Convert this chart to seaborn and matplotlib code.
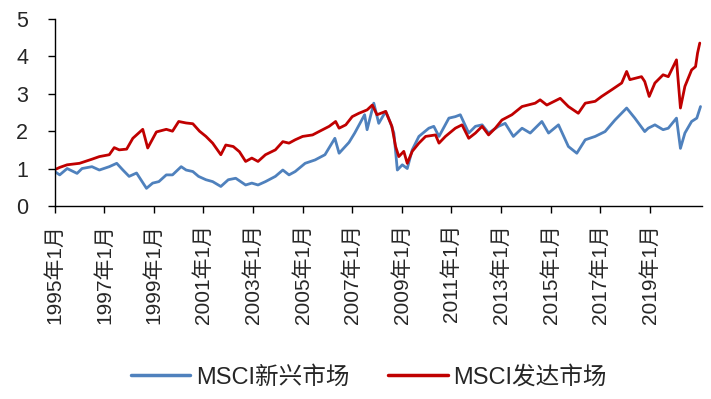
import matplotlib
matplotlib.use("Agg")
import matplotlib.pyplot as plt
import seaborn as sns
import pandas as pd

# ---- data (decimal years, index level) ----
t_em = [1995.0, 1995.2, 1995.5, 1995.9, 1996.1, 1996.5, 1996.8, 1997.2, 1997.5, 1997.75,
        1998.0, 1998.3, 1998.7, 1998.95, 1999.2, 1999.5, 1999.75, 2000.1, 2000.3, 2000.57,
        2000.8, 2001.1, 2001.37, 2001.7, 2002.0, 2002.3, 2002.7, 2002.95, 2003.2, 2003.5,
        2003.9, 2004.2, 2004.45, 2004.7, 2005.1, 2005.5, 2005.9, 2006.3, 2006.47, 2006.87,
        2007.1, 2007.5, 2007.6, 2007.87, 2008.07, 2008.35, 2008.55, 2008.68, 2008.82, 2009.02,
        2009.22, 2009.42, 2009.69, 2010.09, 2010.29, 2010.5, 2010.9, 2011.16, 2011.36, 2011.7,
        2011.97, 2012.24, 2012.5, 2012.9, 2013.17, 2013.5, 2013.85, 2014.18, 2014.65, 2014.92,
        2015.32, 2015.72, 2016.06, 2016.4, 2016.8, 2017.2, 2017.6, 2018.07, 2018.4, 2018.8,
        2018.94, 2019.21, 2019.54, 2019.75, 2020.08, 2020.24, 2020.42, 2020.69, 2020.9, 2021.05]
v_em = [0.92, 0.83, 1.00, 0.87, 1.00, 1.05, 0.96, 1.05, 1.14, 0.96,
        0.79, 0.88, 0.47, 0.61, 0.65, 0.83, 0.83, 1.05, 0.96, 0.92,
        0.79, 0.70, 0.65, 0.52, 0.70, 0.74, 0.56, 0.61, 0.56, 0.65,
        0.79, 0.96, 0.83, 0.92, 1.14, 1.23, 1.37, 1.81, 1.41, 1.70,
        1.95, 2.44, 2.04, 2.75, 2.21, 2.53, 2.21, 1.95, 0.96, 1.10,
        1.00, 1.50, 1.86, 2.08, 2.13, 1.86, 2.35, 2.39, 2.44, 1.95,
        2.13, 2.17, 1.95, 2.13, 2.21, 1.86, 2.08, 1.95, 2.26, 1.95,
        2.17, 1.59, 1.41, 1.77, 1.86, 1.99, 2.30, 2.62, 2.35, 1.99,
        2.08, 2.17, 2.04, 2.08, 2.35, 1.54, 1.95, 2.26, 2.35, 2.66]

t_dm = [1995.0, 1995.2, 1995.5, 1996.0, 1996.5, 1996.8, 1997.2, 1997.4, 1997.6, 1997.9,
        1998.15, 1998.55, 1998.75, 1999.1, 1999.5, 1999.75, 2000.0, 2000.3, 2000.57, 2000.84,
        2001.1, 2001.37, 2001.7, 2001.9, 2002.2, 2002.45, 2002.7, 2002.95, 2003.2, 2003.5,
        2003.9, 2004.2, 2004.45, 2004.7, 2005.0, 2005.4, 2005.66, 2006.07, 2006.33, 2006.47,
        2006.74, 2007.0, 2007.27, 2007.6, 2007.81, 2008.0, 2008.35, 2008.6, 2008.75, 2008.88,
        2009.08, 2009.22, 2009.42, 2009.69, 2009.96, 2010.36, 2010.5, 2010.76, 2011.16, 2011.43,
        2011.7, 2011.97, 2012.24, 2012.5, 2012.77, 2013.04, 2013.44, 2013.85, 2014.38, 2014.58,
        2014.85, 2015.39, 2015.72, 2016.12, 2016.4, 2016.8, 2017.06, 2017.47, 2017.87, 2018.07,
        2018.2, 2018.67, 2018.8, 2018.98, 2019.21, 2019.54, 2019.75, 2020.08, 2020.24, 2020.42,
        2020.69, 2020.85, 2020.93, 2021.02]
v_dm = [0.97, 1.03, 1.10, 1.14, 1.25, 1.32, 1.37, 1.56, 1.50, 1.52,
        1.81, 2.05, 1.55, 1.98, 2.05, 2.00, 2.26, 2.22, 2.20, 2.00,
        1.86, 1.68, 1.37, 1.63, 1.59, 1.45, 1.19, 1.28, 1.19, 1.37,
        1.50, 1.72, 1.68, 1.77, 1.86, 1.90, 1.99, 2.13, 2.26, 2.08,
        2.17, 2.39, 2.48, 2.57, 2.70, 2.44, 2.53, 2.13, 1.59, 1.32,
        1.46, 1.14, 1.46, 1.68, 1.86, 1.90, 1.68, 1.86, 2.08, 2.17,
        1.81, 1.95, 2.13, 1.90, 2.08, 2.30, 2.44, 2.66, 2.75, 2.84,
        2.70, 2.88, 2.66, 2.48, 2.75, 2.80, 2.93, 3.11, 3.29, 3.60,
        3.38, 3.46, 3.33, 2.93, 3.29, 3.51, 3.46, 3.91, 2.62, 3.20,
        3.64, 3.73, 4.09, 4.36]

series_names = ["MSCI新兴市场", "MSCI发达市场"]
colors = ["#4F81BD", "#C00000"]
tick_years = list(range(1995, 2021, 2))
tick_labels = [f"{y}年1月" for y in tick_years]
y_ticks = [0, 1, 2, 3, 4, 5]

df = pd.concat([
    pd.DataFrame({"t": t_em, "v": v_em, "s": series_names[0]}),
    pd.DataFrame({"t": t_dm, "v": v_dm, "s": series_names[1]}),
], ignore_index=True)

sns.set_style("ticks")
plt.rcParams["font.family"] = ["Liberation Sans", "Noto Sans CJK SC", "DejaVu Sans"]

fig = plt.figure(figsize=(7.11, 3.99), dpi=100)
ax = fig.add_axes([0.077, 0.484, 0.910, 0.468])

sns.lineplot(data=df, x="t", y="v", hue="s", hue_order=series_names,
             palette=colors, linewidth=2.0, ax=ax, sort=True, estimator=None)

ax.set_xlim(1995.0, 2021.1)
ax.set_ylim(0, 5)
ax.set_xticks(tick_years)
ax.set_xticklabels(tick_labels, rotation=90, fontsize=15)
ax.set_yticks(y_ticks)
ax.set_yticklabels([str(v) for v in y_ticks], fontsize=15.5)
ax.tick_params(axis="both", direction="out", length=5, width=1, color="black")
ax.tick_params(axis="x", pad=8)
ax.tick_params(axis="y", pad=14)
ax.set_xlabel("")
ax.set_ylabel("")
for side in ["top", "right"]:
    ax.spines[side].set_visible(False)
for side in ["left", "bottom"]:
    ax.spines[side].set_color("black")
    ax.spines[side].set_linewidth(1)

handles, labels = ax.get_legend_handles_labels()
ax.legend(handles, labels, loc="center", bbox_to_anchor=(0.519, 0.055),
          bbox_transform=fig.transFigure, ncol=2, frameon=False, fontsize=17,
          handlelength=2.5, columnspacing=1.65, handletextpad=0.25)
for line in ax.get_legend().get_lines():
    line.set_linewidth(2.5)

fig.savefig("out.png", dpi=100)
